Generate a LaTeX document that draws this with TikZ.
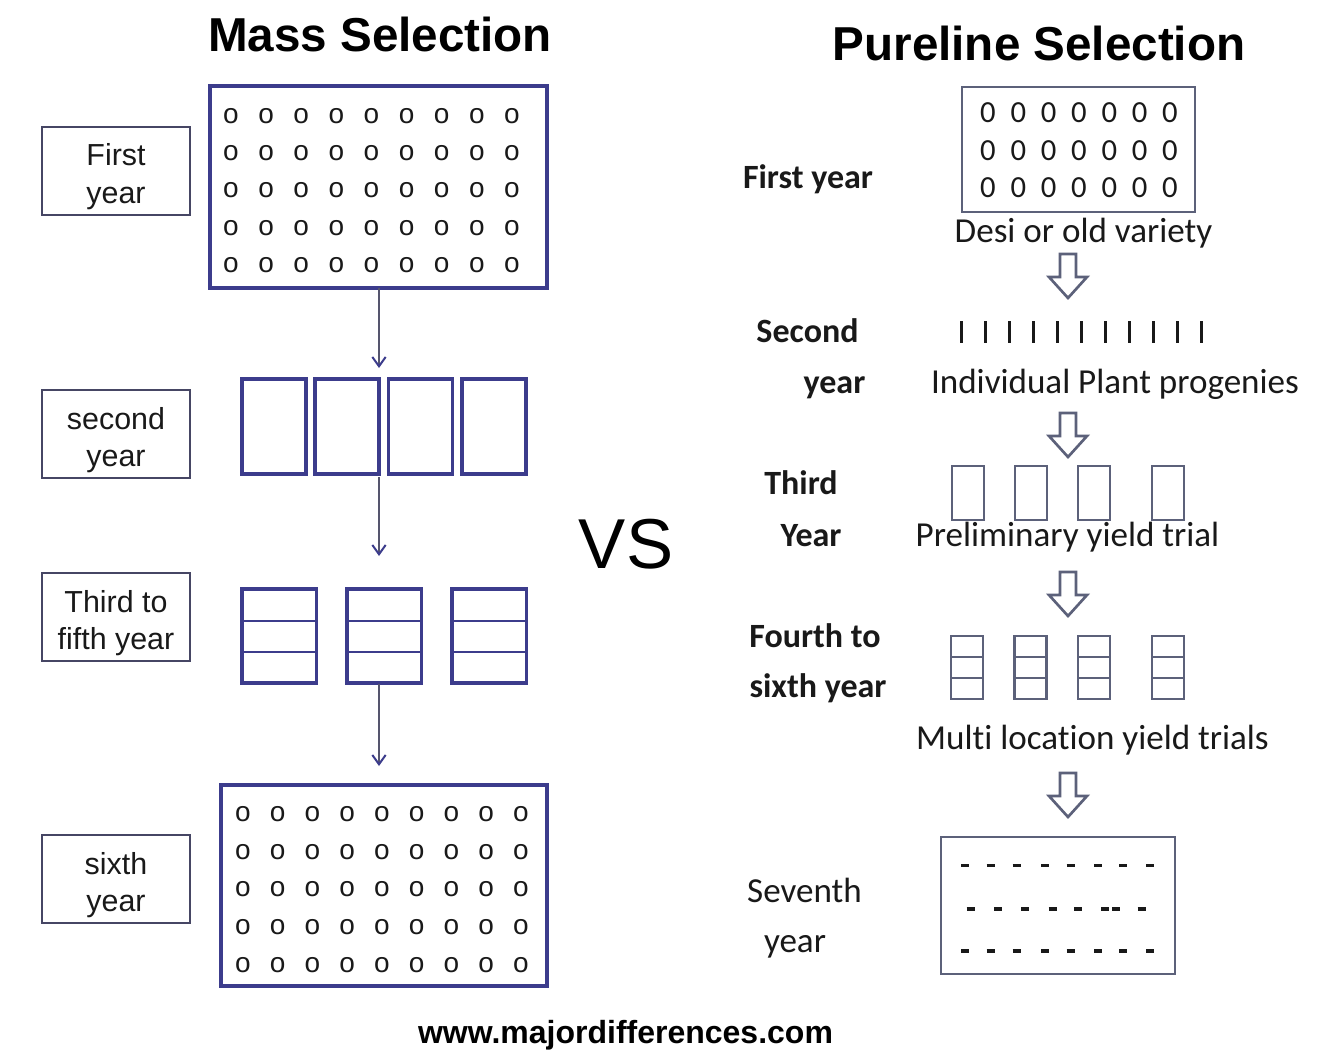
\documentclass[tikz,border=0pt]{standalone}
\usepackage{fontspec}
\setmainfont{Liberation Sans}
\newfontfamily\calfont[Ligatures=NoCommon]{Carlito}
\usetikzlibrary{arrows.meta}
\definecolor{mainblue}{RGB}{60,60,140}
\definecolor{labgray}{RGB}{70,70,100}
\definecolor{rgray}{RGB}{92,97,122}
\definecolor{arrline}{RGB}{85,85,110}
\definecolor{txt}{RGB}{25,25,25}
\newcommand\barr[2]{%
  \draw[blockarr] ({#1-8},{#2}) -- ({#1+8},{#2}) -- ({#1+8},{#2+23}) -- ({#1+19},{#2+23}) -- ({#1},{#2+44}) -- ({#1-19},{#2+23}) -- ({#1-8},{#2+23}) -- cycle;}
\tikzset{
  wh/.style 2 args={minimum width=#1*0.75pt, minimum height=#2*0.75pt},
  mainbox/.style={draw=mainblue, line width=2.3pt, inner sep=0pt, outer sep=0pt, anchor=north west},
  labelbox/.style={draw=labgray, line width=1.4pt, inner sep=0pt, outer sep=0pt, anchor=north west, wh={148}{88}},
  rbox/.style={draw=rgray, line width=2.1pt, inner sep=0pt, outer sep=0pt, anchor=north west},
  labtxt/.style={font=\fontsize{22.8}{27}\selectfont, text=txt, anchor=base, inner sep=0pt},
  otxt/.style={font=\fontsize{21}{22}\selectfont, text=txt, inner sep=0pt},
  ztxt/.style={font=\calfont\fontsize{23}{24}\selectfont, text=txt, inner sep=0pt},
  rtxt/.style={font=\calfont\fontsize{26.3}{30}\selectfont, text=txt, anchor=base, inner sep=0pt},
  rbold/.style={font=\calfont\bfseries\fontsize{25.5}{30}\selectfont, text=txt, anchor=base, inner sep=0pt},
  thinarr/.style={draw=arrline, line width=1.1pt, -{Straight Barb[length=7pt, width=10pt, line width=1.5pt, color=mainblue]}},
  blockarr/.style={draw=rgray, line width=2pt, fill=white, line join=miter},
  dashmark/.style={draw=txt, line width=2.4pt},
  innerline/.style={draw=mainblue, line width=1.5pt},
  rinner/.style={draw=rgray, line width=2pt}
}
\begin{document}
\begin{tikzpicture}[x=0.75pt, y=-0.75pt]
\useasboundingbox (0,0) rectangle (1318,1056);
\fill[white] (0,0) rectangle (1318,1056);

% Titles
\node[font=\bfseries\fontsize{35.7}{40}\selectfont, anchor=base, inner sep=0pt] (t1) at (380,52) {Mass Selection};
\node[font=\bfseries\fontsize{35.7}{40}\selectfont, anchor=base, inner sep=0pt] (t2) at (1039,61) {Pureline Selection};
\node[font=\fontsize{53}{60}\selectfont, anchor=base, inner sep=0pt] (vs) at (626,568) {VS};
\node[font=\bfseries\fontsize{24}{28}\selectfont, anchor=base, inner sep=0pt] (url) at (625.5,1043) {www.majordifferences.com};

% ===== Left: Mass selection =====
\node[labelbox] (l1) at (42,127) {};
\node[labtxt] (l1a) at (116,166) {First};
\node[labtxt] (l1b) at (116,203) {year};
\node[labelbox] (l2) at (42,390) {};
\node[labtxt] (l2a) at (116,429) {second};
\node[labtxt] (l2b) at (116,466) {year};
\node[labelbox] (l3) at (42,573) {};
\node[labtxt] (l3a) at (116,612) {Third to};
\node[labtxt] (l3b) at (116,649) {fifth year};
\node[labelbox] (l4) at (42,835) {};
\node[labtxt] (l4a) at (116,874) {sixth};
\node[labtxt] (l4b) at (116,911) {year};

% top grid
\node[mainbox, wh={337}{202}] (g1) at (210,86) {};
\foreach \i in {0,...,8}{\foreach \j in {0,...,4}{
  \node[otxt] (ga-\i-\j) at ({231+35.125*\i},{116+37.25*\j}) {o};}}

% second year boxes
\node[mainbox, wh={64}{95}] (s1) at (242,379) {};
\node[mainbox, wh={64}{95}] (s2) at (315,379) {};
\node[mainbox, wh={64}{95}] (s3) at (388.5,379) {};
\node[mainbox, wh={64}{95}] (s4) at (462,379) {};

% third to fifth boxes
\foreach \x/\n in {242/1,347/2,452/3}{
  \node[mainbox, wh={74.5}{94}] (f\n) at (\x,589) {};
  \draw[innerline] (f\n.west |- 0,620.5) -- (f\n.east |- 0,620.5);
  \draw[innerline] (f\n.west |- 0,652) -- (f\n.east |- 0,652);
}

% bottom grid
\node[mainbox, wh={326}{201}] (g2) at (221,785) {};
\foreach \i in {0,...,8}{\foreach \j in {0,...,4}{
  \node[otxt] (gb-\i-\j) at ({243+34.75*\i},{814+37.75*\j}) {o};}}

% thin arrows
\coordinate (a1s) at (379,288);
\coordinate (a1e) at (379,368);
\coordinate (a2s) at (379,477);
\coordinate (a2e) at (379,556);
\coordinate (a3s) at (379,684);
\coordinate (a3e) at (379,766);
\draw[thinarr] (a1s) -- (a1e);
\draw[thinarr] (a2s) -- (a2e);
\draw[thinarr] (a3s) -- (a3e);

% ===== Right: Pureline selection =====
\node[rbold] (r1) at (808,188) {First year};
\node[rbold] (r2a) at (807.5,342) {Second};
\node[rbold] (r2b) at (834.5,393) {year};
\node[rbold] (r3a) at (801,494) {Third};
\node[rbold] (r3b) at (811,546) {Year};
\node[rbold] (r4a) at (815,647) {Fourth to};
\node[rbold] (r4b) at (818,697) {sixth year};
\node[rtxt] (r5a) at (804.5,902) {Seventh};
\node[rtxt] (r5b) at (795,952) {year};

% first year box
\node[rbox, wh={233}{125}] (p1) at (962,87) {};
\foreach \i in {0,...,6}{\foreach \j/\y in {0/113,1/151,2/188}{
  \node[ztxt] (z-\i-\j) at ({988+30.33*\i},\y) {0};}}
\node[rtxt] (d1) at (1083.5,242) {Desi or old variety};
\barr{1068}{254}

% bars
\foreach \i in {0,...,10}{
  \draw[draw=txt, line width=2.3pt] ({961.7+24*\i},321) -- ({961.7+24*\i},343);}
\node[rtxt] (d2) at (1115,393) {Individual Plant progenies};
\barr{1068}{413}

% third year boxes
\foreach \x/\n in {952/1,1015/2,1078/3,1152/4}{
  \node[rbox, wh={32}{54}] (q\n) at (\x,466) {};}
\node[rtxt] (d3) at (1067.5,546) {Preliminary yield trial};
\barr{1068}{572}

% fourth to sixth boxes
\foreach \x/\n in {951/1,1014.5/2,1078/3,1152/4}{
  \node[rbox, wh={32}{63}] (m\n) at (\x,636) {};
  \draw[rinner] (m\n.west |- 0,657) -- (m\n.east |- 0,657);
  \draw[rinner] (m\n.west |- 0,678) -- (m\n.east |- 0,678);
}
\node[rtxt] (d4) at (1092.5,749) {Mult\kern0pt i location yield trials};
\barr{1068}{773}

% seventh year box
\node[rbox, wh={234}{137}] (p7) at (941,837) {};
\foreach \x in {965,990.7,1016.7,1045,1070.7,1098,1123,1150}{
  \draw[dashmark] ({\x-4},865.7) -- ({\x+4},865.7);
  \draw[dashmark] ({\x-4},951) -- ({\x+4},951);}
\foreach \x in {970.7,998,1025,1052.7,1078,1105,1116,1141.7}{
  \draw[dashmark] ({\x-4},909) -- ({\x+4},909);}
\end{tikzpicture}
\end{document}
